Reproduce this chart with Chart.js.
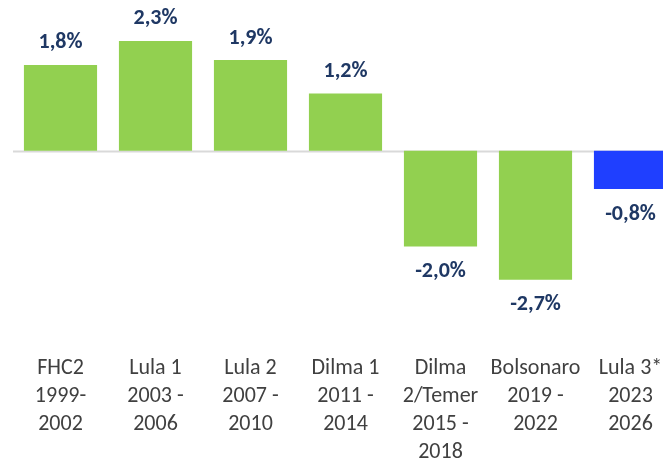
<!DOCTYPE html>
<html>
<head>
<meta charset="utf-8">
<script src="https://cdn.jsdelivr.net/npm/chart.js@4/dist/chart.umd.min.js"></script>
<style>
html,body{margin:0;padding:0;background:#fff;overflow:hidden;}
#wrap{width:700px;height:476px;}
</style>
</head>
<body>
<div id="wrap"><canvas id="c" width="700" height="476"></canvas></div>
<script>
const categories = [
  ["FHC2","1999-","2002"],
  ["Lula 1","2003 -","2006"],
  ["Lula 2","2007 -","2010"],
  ["Dilma 1","2011 -","2014"],
  ["Dilma","2/Temer","2015 -","2018"],
  ["Bolsonaro","2019 -","2022"],
  ["Lula 3*","2023","2026"]
];
const values = [1.8, 2.3, 1.9, 1.2, -2.0, -2.7, -0.8];
const barColors = ["#92D050","#92D050","#92D050","#92D050","#92D050","#92D050","#1F3FFF"];

const labelPlugin = {
  id: 'valueLabels',
  beforeDatasetsDraw(chart) {
    const ctx = chart.ctx, y = chart.scales.y, a = chart.chartArea;
    const y0 = Math.round(y.getPixelForValue(0)) + 0.5;
    ctx.save();
    ctx.strokeStyle = '#D9D9D9';
    ctx.lineWidth = 2;
    ctx.beginPath();
    ctx.moveTo(a.left, y0);
    ctx.lineTo(a.right, y0);
    ctx.stroke();
    ctx.restore();
  },
  afterDatasetsDraw(chart) {
    const ctx = chart.ctx;
    const meta = chart.getDatasetMeta(0);
    ctx.save();
    ctx.font = 'bold 22px Carlito, Lato, sans-serif';
    ctx.fillStyle = '#1F3864';
    ctx.textAlign = 'center';
    ctx.textBaseline = 'middle';
    meta.data.forEach((bar, i) => {
      const v = values[i];
      const txt = v.toFixed(1).replace('.', ',') + '%';
      const yy = v >= 0 ? bar.y - 22 : bar.y + 25;
      ctx.fillText(txt, bar.x, yy);
    });
    ctx.restore();
  }
};

new Chart(document.getElementById('c'), {
  type: 'bar',
  data: {
    labels: categories,
    datasets: [{
      data: values,
      backgroundColor: barColors,
      borderWidth: 0,
      categoryPercentage: 0.77,
      barPercentage: 1.0
    }]
  },
  options: {
    responsive: false,
    animation: false,
    layout: { padding: { left: 13, right: 22, top: 0, bottom: 6 } },
    plugins: { legend: { display: false }, tooltip: { enabled: false } },
    scales: {
      x: {
        grid: { display: false, drawTicks: false },
        border: { display: false },
        ticks: {
          color: '#404040',
          font: { family: 'Carlito, Lato, sans-serif', size: 22, lineHeight: '28px' },
          padding: 4,
          maxRotation: 0,
          minRotation: 0,
          autoSkip: false
        }
      },
      y: {
        display: false,
        min: -4.168,
        max: 3.158
      }
    }
  },
  plugins: [labelPlugin]
});
</script>
</body>
</html>
